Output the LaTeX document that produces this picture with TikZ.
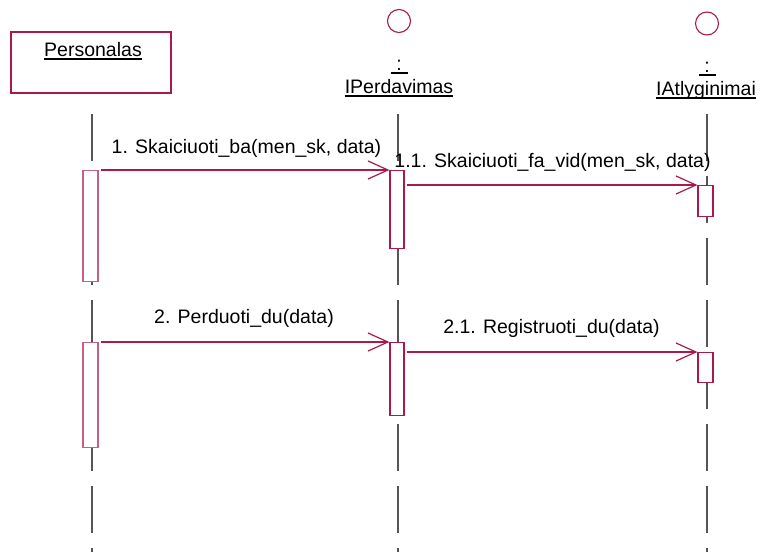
\documentclass[tikz,border=0pt]{standalone}
\usepackage{fontspec}
\setmainfont{Liberation Sans}
\usepackage{xcolor}
\usetikzlibrary{arrows.meta, positioning}
\definecolor{rosered}{RGB}{170,25,75}
\definecolor{rosepale}{RGB}{200,95,135}
\definecolor{lifegray}{RGB}{85,85,85}
\newcommand{\ulbox}[1]{\vtop{\hbox{\smash{#1}}\kern2.2pt\hrule height 2.2pt}}

\begin{document}
\begin{tikzpicture}[x=1pt, y=-1pt,
  lbl/.style={font=\fontsize{19.5}{22}\selectfont, inner sep=0pt, anchor=base},
  objbox/.style={rectangle, draw=rosered, line width=1.1pt, minimum width=160pt, minimum height=61pt, inner sep=0pt},
  iface/.style={circle, draw=rosered, line width=1.1pt, minimum size=23pt, inner sep=0pt},
  lifeline/.style={draw=lifegray, line width=1.2pt, dash pattern=on 47pt off 15pt},
  act/.style={rectangle, draw=rosered, fill=white, line width=1.1pt, minimum width=14pt, inner sep=0pt, anchor=north},
  actpale/.style={act, draw=rosepale},
  msg/.style={-{Straight Barb[length=20pt, width=18pt]}, rosered, line width=1.2pt, shorten <=2.5pt}
]
\useasboundingbox (0,0) rectangle (760,552);
% objects
\node[objbox] (pers) at (91,62.5) {};
\node[lbl] (perslbl) at (93,56) {\ulbox{Personalas}};
\node[iface] (perd) at (399,21) {};
\node[lbl] (perdcolon) at (399,70) {\ulbox{\makebox[17pt]{:}}};
\node[lbl] (perdname) at (399,93) {\ulbox{IPerdavimas}};
\node[iface] (atl) at (707,23.5) {};
\node[lbl] (atlcolon) at (707,72) {\ulbox{\makebox[17pt]{:}}};
\node[lbl] (atlname) at (706,95) {\ulbox{IAtlyginimai}};
% lifelines
\coordinate (perstop) at (92,114);
\coordinate (persend) at (92,552);
\coordinate (perdtop) at (398,114);
\coordinate (perdend) at (398,552);
\coordinate (atltop) at (707,114);
\coordinate (atlend) at (707,552);
\draw[lifeline] (perstop) -- (persend);
\draw[lifeline] (perdtop) -- (perdend);
\draw[lifeline] (atltop) -- (atlend);
% activations
\node[actpale, minimum width=15pt, minimum height=111pt] (actP1) at (90.5,170) {};
\node[act, minimum height=78pt] (actD1) at (397,170) {};
\node[act, minimum width=15pt, minimum height=31pt] (actA1) at (705.5,185) {};
\node[actpale, minimum width=15pt, minimum height=105pt] (actP2) at (90.5,342) {};
\node[act, minimum height=73pt] (actD2) at (397,342) {};
\node[act, minimum width=15pt, minimum height=30pt] (actA2) at (705.5,352) {};
% messages
\draw[msg] (actP1.north east) -- (actD1.north west);
\draw[msg] (actD1.east |- actA1.north) -- (actA1.north west);
\draw[msg] (actP2.north east) -- (actD2.north west);
\draw[msg] (actD2.east |- actA2.north) -- (actA2.north west);
\node[lbl] (m1) at (246.5,153) {1. Skaiciuoti\_ba(men\_sk, data)};
\node[lbl] (m11) at (552.5,167) {1.1. Skaiciuoti\_fa\_vid(men\_sk, data)};
\node[lbl] (m2) at (244,323) {2. Perduoti\_du(data)};
\node[lbl] (m21) at (551.5,333) {2.1. Registruoti\_du(data)};
\end{tikzpicture}
\end{document}
